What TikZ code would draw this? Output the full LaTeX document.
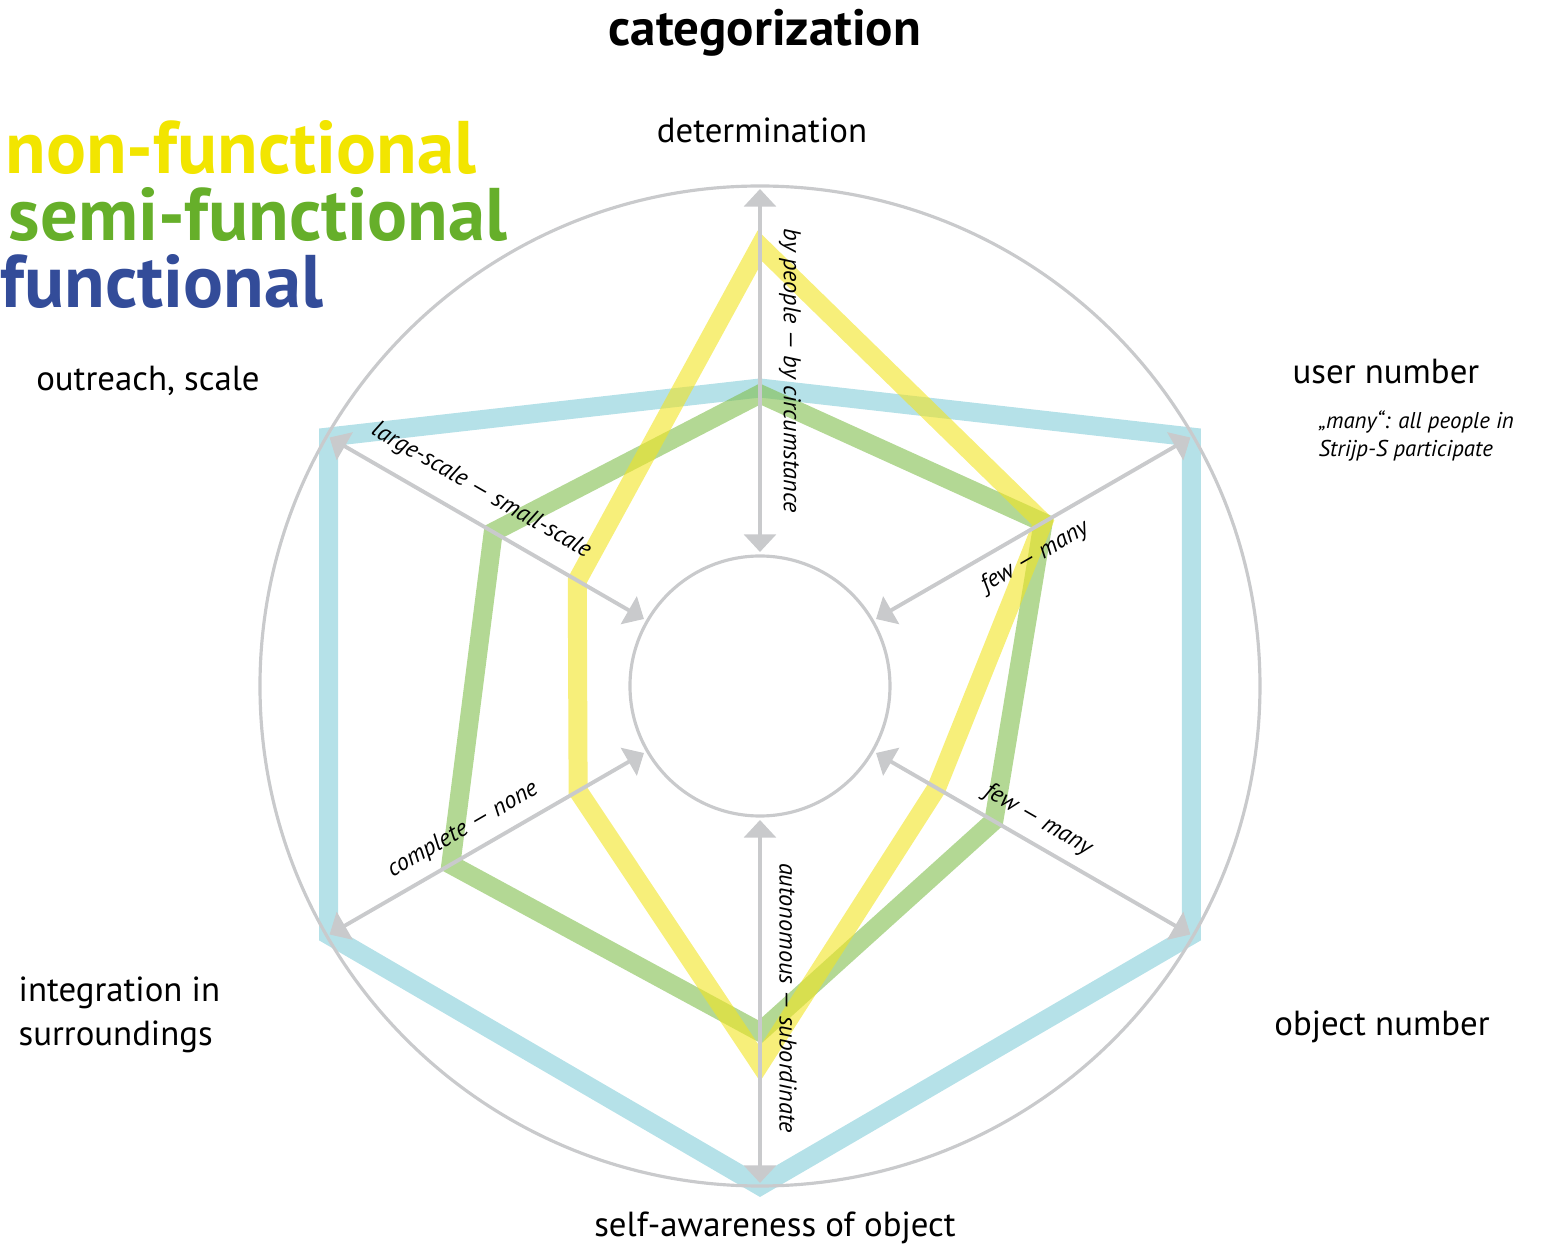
\documentclass[tikz,border=0pt]{standalone}
\usepackage{fontspec}
\setmainfont{PT Sans}
\usetikzlibrary{arrows.meta}
\definecolor{gridgray}{HTML}{C9CACC}
\definecolor{nonfunc}{RGB}{242,228,33}
\definecolor{semifunc}{RGB}{128,190,77}
\definecolor{func}{RGB}{132,205,217}
\definecolor{nonfunctext}{HTML}{F2E500}
\definecolor{semifunctext}{HTML}{66AF2A}
\definecolor{functext}{HTML}{334C99}
\tikzset{
  axis/.style={draw=gridgray, line width=1.1pt,
    {Triangle[length=5pt,width=9pt]}-{Triangle[length=5pt,width=9pt]}},
  ring/.style={draw=gridgray, line width=0.9pt},
  band/.style={line width=5.4pt, opacity=0.6},
  dimlabel/.style={font=\fontsize{6.9}{8}\selectfont\itshape, inner sep=0pt},
  notelabel/.style={font=\fontsize{6.5}{8}\selectfont\itshape, inner sep=0pt},
  axlabel/.style={font=\fontsize{9.9}{12.5}\selectfont},
  legend/.style={font=\fontsize{21.2}{24}\selectfont\bfseries, anchor=west, inner sep=0pt},
}
\begin{document}
\begin{tikzpicture}[x=0.01cm, y=0.01cm]
  \useasboundingbox (-760,-559) rectangle (784,686);

  \foreach \ang/\r [count=\i] in {90/298, 30/498, -30/498, -90/500, 210/498, 150/498}
    \coordinate (f\i) at (\ang:\r);
  \foreach \ang/\r [count=\i] in {90/292, 30/327, -30/270, -90/346, 210/357, 150/308}
    \coordinate (s\i) at (\ang:\r);
  \foreach \ang/\r [count=\i] in {90/440, 30/327, -30/204, -90/378, 210/210, 150/211}
    \coordinate (n\i) at (\ang:\r);

  \draw[band, func]     (f1) -- (f2) -- (f3) -- (f4) -- (f5) -- (f6) -- cycle;
  \draw[band, semifunc] (s1) -- (s2) -- (s3) -- (s4) -- (s5) -- (s6) -- cycle;
  \draw[band, nonfunc]  (n1) -- (n2) -- (n3) -- (n4) -- (n5) -- (n6) -- cycle;

  \draw[ring] (0,0) circle (500);
  \draw[ring] (0,0) circle (130);

  \foreach \name/\ang in {det/90, usr/30, obj/-30, aware/-90, integ/210, reach/150} {
    \coordinate (\name-out) at (\ang:497);
    \coordinate (\name-in) at (\ang:134);
    \draw[axis] (\name-out) -- (\name-in);
  }

  \node[dimlabel, rotate=-90] (detdim) at (30,315) {by people — by circumstance};
  \node[dimlabel, rotate=30] (usrdim) at (275,129) {few — many};
  \node[dimlabel, rotate=-30] (objdim) at (278,-134) {few — many};
  \node[dimlabel, rotate=-90] (awaredim) at (28,-312) {autonomous — subordinate};
  \node[dimlabel, rotate=30] (integdim) at (-297,-144) {complete — none};
  \node[dimlabel, rotate=-30] (reachdim) at (-279,195) {large-scale — small-scale};

  \node[font=\fontsize{14.5}{17}\selectfont\bfseries] (title) at (5,653) {categorization};
  \node[axlabel] (det) at (2,556) {determination};
  \node[axlabel] (usr) at (626,314) {user number};
  \node[notelabel, anchor=west, align=left] (usrnote) at (558,250)
    {„many“: all people in\\Strijp-S participate};
  \node[axlabel] (reach) at (-612,305) {outreach, scale};
  \node[axlabel, anchor=west, align=left, inner sep=0pt] (integ) at (-742,-329)
    {integration in\\surroundings};
  \node[axlabel] (obj) at (622,-341) {object number};
  \node[axlabel] (aware) at (15,-542) {self-awareness of object};

  \node[legend, nonfunctext] (nonleg) at (-755,538) {non-functional};
  \node[legend, semifunctext] (semileg) at (-752,471) {semi-functional};
  \node[legend, functext] (funcleg) at (-760,404) {functional};
\end{tikzpicture}
\end{document}
